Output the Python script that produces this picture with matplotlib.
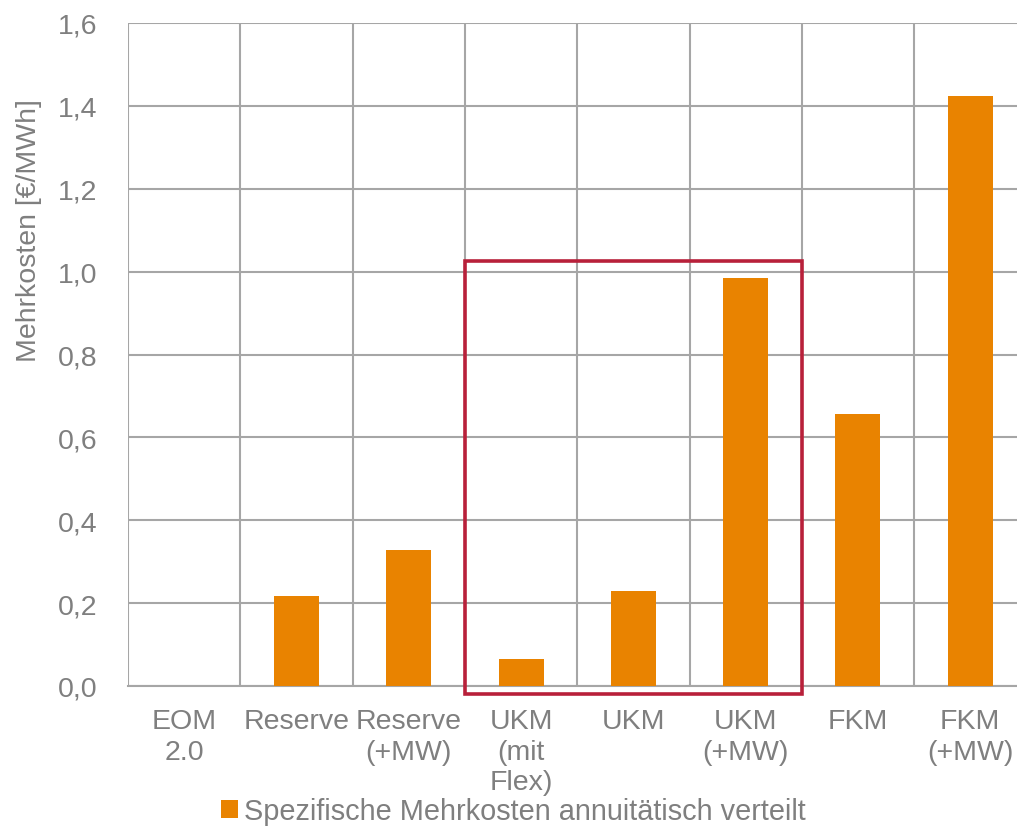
import matplotlib.pyplot as plt
from matplotlib.patches import Rectangle
from matplotlib.ticker import FuncFormatter

plt.rcParams['font.family'] = ['Liberation Sans', 'DejaVu Sans']

# Kategorien und Werte
categories = ['EOM\n2.0', 'Reserve', 'Reserve\n(+MW)', 'UKM\n(mit\nFlex)', 'UKM',
              'UKM\n(+MW)', 'FKM', 'FKM\n(+MW)']
values = [0.0, 0.218, 0.328, 0.065, 0.229, 0.985, 0.656, 1.424]
series_name = 'Spezifische Mehrkosten annuitätisch verteilt'

orange = '#E98300'
grey = '#7F7F7F'
grid_col = '#A6A6A6'

fig = plt.figure(figsize=(10.17, 8.29), dpi=100)
ax = fig.add_axes([128 / 1017, 1 - 687 / 829, 1 - 128 / 1017, (687 - 24) / 829])

x = list(range(len(categories)))
ax.bar(x, values, width=0.4, color=orange, zorder=3, label=series_name)

ax.set_yticks([i * 0.2 for i in range(9)])
ax.yaxis.set_major_formatter(FuncFormatter(lambda v, p: f'{v:.1f}'.replace('.', ',')))
ax.set_xticks(x)
ax.set_xticklabels(categories, linespacing=1.22)
ax.set_xticks([i + 0.5 for i in range(-1, len(categories))], minor=True)
# Grenzen erst nach den Ticks setzen (set_xticks erweitert sonst die Achse)
ax.set_ylim(0, 1.6)
ax.set_xlim(-0.5, -0.5 + 889 / 112.3)

ax.grid(True, which='major', axis='y', color=grid_col, linewidth=1.5, zorder=0)
ax.grid(True, which='minor', axis='x', color=grid_col, linewidth=1.5, zorder=0)
for s in ['top', 'right', 'left']:
    ax.spines[s].set_visible(False)
ax.spines['bottom'].set_color(grid_col)
ax.spines['bottom'].set_linewidth(1.5)
ax.tick_params(axis='both', which='both', length=0, colors=grey, labelsize=20.5)
ax.tick_params(axis='x', pad=16)
ax.tick_params(axis='y', pad=22)
ax.set_ylabel('Mehrkosten [€/MWh]', color=grey, fontsize=20.5)
ax.yaxis.set_label_coords(-0.097, 0.689)

# roter Rahmen um die UKM-Varianten
ax.add_patch(Rectangle((2.5, -0.019), 3.0, 1.045, fill=False, edgecolor='#B8203A',
                       linewidth=2.6, zorder=4, clip_on=False))

leg = fig.legend(loc='center', bbox_to_anchor=(0.505, 1 - 812 / 829), frameon=False,
                 fontsize=20.8, handlelength=0.6, handleheight=0.6, handletextpad=0.2)
for t in leg.get_texts():
    t.set_color(grey)

fig.savefig('out.png', dpi=100)
